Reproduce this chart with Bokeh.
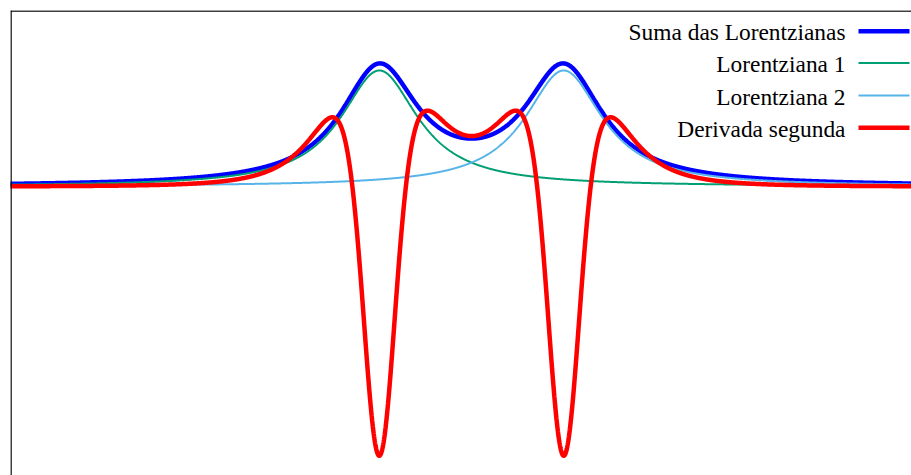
import numpy as np
from bokeh.plotting import figure
from bokeh.models import Range1d, Span
from bokeh.core.properties import value
from bokeh.embed import file_html
from bokeh.resources import INLINE

# --- data (parameters) ---
series_names = ["Suma das Lorentzianas", "Lorentziana 1", "Lorentziana 2", "Derivada segunda"]
series_colors = ["#0000ff", "#009e73", "#56b4e9", "#ff0000"]
series_widths = [4.5, 2.0, 2.0, 4.5]
centers = [-1.0, 1.0]
half_widths = [0.51, 0.51]
amplitudes = [1.0, 1.0]
deriv_scale = 0.305
x_min, x_max = -5.0, 4.772
y_min, y_max = -2.491, 1.517

x = np.linspace(x_min - 0.05, x_max + 0.05, 3000)


def lorentz(xx, c, g, a):
    return a / (1.0 + ((xx - c) / g) ** 2)


def lorentz_dd(xx, c, g, a):
    u = (xx - c) / g
    return a * (6 * u ** 2 - 2) / (1 + u ** 2) ** 3 / g ** 2


l1 = lorentz(x, centers[0], half_widths[0], amplitudes[0])
l2 = lorentz(x, centers[1], half_widths[1], amplitudes[1])
total = l1 + l2
dd = deriv_scale * (lorentz_dd(x, centers[0], half_widths[0], amplitudes[0]) +
                    lorentz_dd(x, centers[1], half_widths[1], amplitudes[1]))
curves = [total, l1, l2, dd]

W, H = 911, 475
p = figure(width=W, height=H, output_backend="svg", toolbar_location=None,
           x_range=Range1d(x_min, x_max), y_range=Range1d(y_min, y_max),
           x_axis_location=None, y_axis_location=None,
           min_border_left=10, min_border_top=10, min_border_right=0, min_border_bottom=0)
p.outline_line_color = None
p.xgrid.visible = False
p.ygrid.visible = False
p.background_fill_color = "white"
p.border_fill_color = "white"

px_per_x = (W - 10) / (x_max - x_min)
px_per_y = (H - 10) / (y_max - y_min)


def dx(px):
    return x_min + (px - 10) / px_per_x


def dy(py):
    return y_max - (py - 10) / px_per_y


for ys, col, lw in zip(curves, series_colors, series_widths):
    p.line(x, ys, line_color=col, line_width=lw)

# frame lines (left and top)
p.add_layout(Span(location=dx(10.5), dimension="height", line_color="black", line_width=1.5))
p.add_layout(Span(location=dy(10.5), dimension="width", line_color="black", line_width=1.5))

# legend (text right-aligned, sample line on the right)
row_py = [30.7, 62.5, 95.0, 127.2]
text_x = [dx(845)] * 4
text_y = [dy(r + 1.0) for r in row_py]
p.text(text_x, text_y, text=series_names, text_align="right", text_baseline="middle",
       text_font=value("Liberation Serif"), text_font_size="23.4px", text_color="black")
for r, col, lw in zip(row_py, series_colors, series_widths):
    p.segment(dx(858), dy(r), dx(909), dy(r), line_color=col, line_width=lw)

open("out.html", "w").write(file_html(p, INLINE))
